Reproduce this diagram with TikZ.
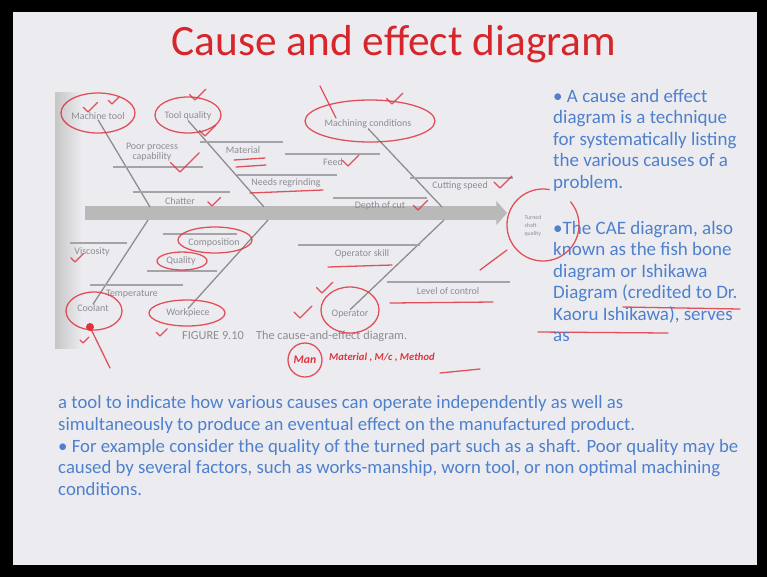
\documentclass[tikz,border=0pt]{standalone}
\usepackage{fontspec}
\setmainfont{Carlito}
\usetikzlibrary{calc,arrows.meta}
\definecolor{slidebg}{RGB}{236,236,240}
\definecolor{titlered}{RGB}{214,38,44}
\definecolor{textblue}{RGB}{78,128,205}
\definecolor{inkred}{RGB}{222,52,64}
\definecolor{bonegray}{RGB}{140,140,146}

\tikzset{
bone/.style={draw=bonegray,line width=1.1pt},
twig/.style={draw=bonegray!80,line width=0.9pt},
lbl/.style={text=bonegray,font=\fontsize{8.5}{9}\selectfont,inner sep=0pt},
ink/.style={draw=inkred,line width=1.1pt,opacity=0.85,line cap=round,line join=round},
bodytext/.style={text=textblue,align=left,inner sep=0pt}
}

\begin{document}
\begin{tikzpicture}[x=0.03cm,y=-0.03cm]

\def\spinew{12pt};

\useasboundingbox (0,0) rectangle (767,577);
\fill[black] (0,0) rectangle (767,577);
\fill[slidebg] (13,12) rectangle (757,565);

\node[text=titlered,font=\fontsize{37}{40}\selectfont] (title) at (394,44) {Cause and effect diagram};

% shadow of the scanned figure
\shade[left color=gray!45,right color=slidebg] (55,92) rectangle (82,348);

% spine
\coordinate (tail) at (85,213);
\coordinate (head) at (507,213);
\draw[draw=gray!55,line width=\spinew,-{Triangle[length=9pt,width=20pt]}] (tail) -- (head);
\node[lbl,align=left,font=\fontsize{5}{7}\selectfont] (effect) at (533,226) {Turned\\shaft\\quality};

% cause labels
\node[lbl] (mtool) at (98,116) {Machine tool};
\node[lbl] (tqual) at (188,116) {Tool quality};
\node[lbl] (mcond) at (368,124) {Machining conditions};
\node[lbl] (cool) at (93,308) {Coolant};
\node[lbl] (wpiece) at (188,313) {Workpiece};
\node[lbl] (oper) at (350,314) {Operator};

% bones
\coordinate (j1) at (150,207);
\coordinate (j2) at (264,207);
\coordinate (j3) at (442,207);
\coordinate (j4) at (148,220);
\coordinate (j5) at (268,220);
\coordinate (j6) at (444,220);
\draw[bone] (mtool.south) -- (j1);
\draw[bone] (tqual.south) -- (j2);
\draw[bone] (mcond.south) -- (j3);
\draw[bone] (j4) -- (cool.north);
\draw[bone] (j5) -- (wpiece.north);
\draw[bone] (j6) -- (oper.north);

% twigs and their texts
\draw[twig] (113,167) -- (203,167);
\node[lbl,align=center] (ppc) at (152,152) {Poor process\\capability};
\draw[twig] (133,192) -- (230,192);
\node[lbl] (chat) at (180,201) {Chatter};
\draw[twig] (200,142) -- (283,142);
\node[lbl] (mat) at (243,150) {Material};
\draw[twig] (237,175) -- (337,175);
\node[lbl] (regr) at (286,183) {Needs regrinding};
\draw[twig] (285,154) -- (380,154);
\node[lbl] (feed) at (333,162) {Feed};
\draw[twig] (410,178) -- (513,178);
\node[lbl] (cspeed) at (460,186) {Cutting speed};
\draw[twig] (333,198) -- (427,198);
\node[lbl] (doc) at (380,206) {Depth of cut};
\draw[twig] (70,243) -- (127,243);
\node[lbl] (visc) at (92,252) {Viscosity};
\draw[twig] (90,285) -- (183,285);
\node[lbl] (temp) at (132,294) {Temperature};
\draw[twig] (163,234) -- (237,234);
\node[lbl] (comp) at (214,243) {Composition};
\draw[twig] (147,271) -- (217,271);
\node[lbl] (qual) at (181,261) {Quality};
\draw[twig] (298,245) -- (420,245);
\node[lbl] (oskill) at (362,254) {Operator skill};
\draw[twig] (387,282) -- (510,282);
\node[lbl] (loc) at (448,291) {Level of control};

\node[text=bonegray,font=\fontsize{10.5}{12}\selectfont,anchor=west] (cap) at (178,336)
 {FIGURE 9.10\quad The cause-and-effect diagram.};

% handwritten marks
\draw[ink] (98,113) ellipse [x radius=37,y radius=20];
\draw[ink] (188,115) ellipse [x radius=33,y radius=18];
\draw[ink] (370,121) ellipse [x radius=65,y radius=21];
\draw[ink] (215,240) ellipse [x radius=37,y radius=13];
\draw[ink] (182,261) ellipse [x radius=25,y radius=9];
\draw[ink] (94,311) ellipse [x radius=28,y radius=19];
\draw[ink] (187,313) ellipse [x radius=38,y radius=13];
\draw[ink] (350,310) ellipse [x radius=29,y radius=23];
\draw[ink] (543,225) ++(-40:36) arc [start angle=-40,end angle=280,radius=36];
\foreach \x/\y/\s in {88/112/0.8,112/104/0.6,195/100/0.9,205/136/0.9,180/172/1.6,212/206/0.7,
 348/166/0.9,500/188/1,418/210/0.8,75/262/0.7,322/293/0.9,300/318/1,83/343/0.5,160/336/0.6,392/104/0.9}
{
\draw[ink] ($(\x,\y)+(-6*\s,-6*\s)$) -- (\x,\y) -- ($(\x,\y)+(12*\s,-12*\s)$);
}
\draw[ink] (320,86) -- (336,118);
\draw[ink] (234,160) -- (265,158);
\draw[ink] (236,167) -- (266,165);
\draw[ink] (250,193) -- (323,190);
\draw[ink] (328,267) -- (392,265);
\draw[ink] (390,303) -- (493,302);
\draw[ink] (480,270) -- (507,250);
\fill[inkred] (90,327) circle [radius=4];
\draw[ink] (90,327) -- (110,368);
\draw[ink] (623,307) -- (740,309);
\draw[ink] (538,332) -- (668,333);
\node[text=inkred,font=\bfseries\itshape\fontsize{10}{10}\selectfont] (man) at (305,360) {Man};
\draw[ink] (man) circle [radius=17];
\node[text=inkred,font=\bfseries\itshape\fontsize{9}{10}\selectfont,anchor=west] (fourm) at (325,358)
 {Material , M/c , Method};
\draw[ink] (440,373) -- (480,369);

% slide text
\node[bodytext,anchor=north west,font=\fontsize{16.2}{18.3}\selectfont] (rtext1) at (553,89)
 {• A cause and effect\\diagram is a technique\\for systematically listing\\the various causes of a\\problem.};
\node[bodytext,anchor=north west,font=\fontsize{16.2}{18.3}\selectfont] (rtext2) at (553,221)
 {•The CAE diagram, also\\known as the fish bone\\diagram or Ishikawa\\Diagram (credited to Dr.\\Kaoru Ishikawa), serves\\as};
\node[bodytext,anchor=north west,font=\fontsize{16}{18.7}\selectfont] (btext) at (58,395)
 {a tool to indicate how various causes can operate independently as well as\\
 simultaneously to produce an eventual effect on the manufactured product.\\
 • For example consider the quality of the turned part such as a shaft. Poor quality may be\\
 caused by several factors, such as works-manship, worn tool, or non optimal machining\\
 conditions.};

\end{tikzpicture}
\end{document}
